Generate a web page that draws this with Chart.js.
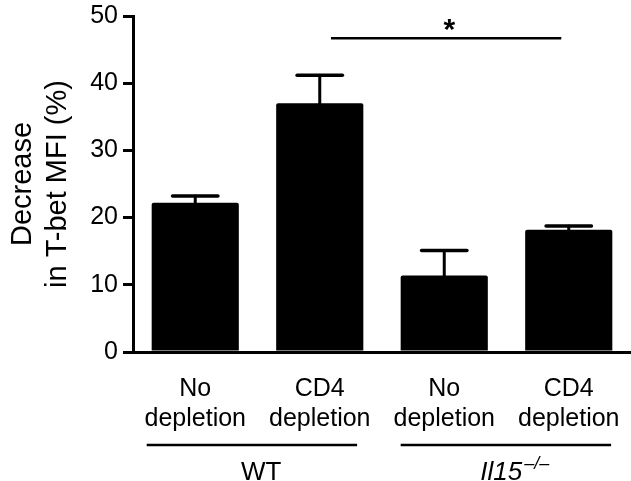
<!DOCTYPE html>
<html>
<head>
<meta charset="utf-8">
<script src="https://cdn.jsdelivr.net/npm/chart.js@4/dist/chart.umd.min.js"></script>
<style>
  html, body { margin: 0; padding: 0; background: #fff; }
  #wrap { width: 631px; height: 481px; }
</style>
</head>
<body>
<div id="wrap"><canvas id="c" width="631" height="481"></canvas></div>
<script>
// ---- data ----
const categories = [["No", "depletion"], ["CD4", "depletion"], ["No", "depletion"], ["CD4", "depletion"]];
const values = [22.2, 37.0, 11.4, 18.2];
const errorsUp = [1.0, 4.2, 3.7, 0.55];
const yTicks = [0, 10, 20, 30, 40, 50];
const yTitle = ["Decrease", "in T-bet MFI (%)"];
const groupNames = ["WT", "Il15"];
const groupSup = ["", "\u2013/\u2013"];
const groupStart = [-0.39, 1.65];   // in category units
const groupEnd = [1.30, 3.34];
const groupLabelAt = [0.53, 2.29];
const sigFrom = [1.09];
const sigTo = [2.94];
const sigAt = [2.04];
const sigValue = [46.7];
const sigText = ["*"];

const FONT = "'Liberation Sans', Arial, sans-serif";

const extras = {
  id: 'extras',
  afterDatasetsDraw(chart) {
    const ctx = chart.ctx;
    const y = chart.scales.y;
    const meta = chart.getDatasetMeta(0);
    ctx.save();
    ctx.strokeStyle = '#000';
    ctx.lineCap = 'round';
    meta.data.forEach((bar, i) => {
      const cx = bar.x;
      const top = y.getPixelForValue(values[i]);
      const errY = y.getPixelForValue(values[i] + errorsUp[i]);
      const capHalf = bar.width * 0.26;
      ctx.lineWidth = 3;
      ctx.beginPath();
      ctx.moveTo(cx, top);
      ctx.lineTo(cx, errY);
      ctx.stroke();
      ctx.lineWidth = 3.5;
      ctx.beginPath();
      ctx.moveTo(cx - capHalf, errY);
      ctx.lineTo(cx + capHalf, errY);
      ctx.stroke();
    });
    ctx.restore();
  },
  afterDraw(chart) {
    const ctx = chart.ctx;
    const x = chart.scales.x, y = chart.scales.y;
    ctx.save();
    ctx.strokeStyle = '#000';
    ctx.fillStyle = '#000';
    // significance
    sigFrom.forEach((f, i) => {
      const yy = y.getPixelForValue(sigValue[i]);
      ctx.lineWidth = 2.5;
      ctx.beginPath();
      ctx.moveTo(x.getPixelForValue(f), yy);
      ctx.lineTo(x.getPixelForValue(sigTo[i]), yy);
      ctx.stroke();
      ctx.font = 'bold 30px ' + FONT;
      ctx.textAlign = 'center';
      ctx.textBaseline = 'alphabetic';
      ctx.fillText(sigText[i], x.getPixelForValue(sigAt[i]), yy + 1);
    });
    // groups
    const lineY = chart.chartArea.bottom + 93;
    const textY = chart.chartArea.bottom + 128;
    groupNames.forEach((g, i) => {
      ctx.lineWidth = 2.5;
      ctx.beginPath();
      ctx.moveTo(x.getPixelForValue(groupStart[i]), lineY);
      ctx.lineTo(x.getPixelForValue(groupEnd[i]), lineY);
      ctx.stroke();
      ctx.textBaseline = 'alphabetic';
      if (!groupSup[i]) {
        ctx.font = '26px ' + FONT;
        ctx.textAlign = 'center';
        ctx.fillText(g, x.getPixelForValue(groupLabelAt[i]), textY);
      } else {
        ctx.font = 'italic 26px ' + FONT;
        ctx.textAlign = 'left';
        const sx = x.getPixelForValue(groupLabelAt[i]);
        ctx.fillText(g, sx, textY);
        const w = ctx.measureText(g).width;
        ctx.font = 'italic 18px ' + FONT;
        ctx.fillText(groupSup[i], sx + w + 2, textY - 11);
      }
    });
    ctx.restore();
  }
};

new Chart(document.getElementById('c'), {
  type: 'bar',
  data: {
    labels: categories,
    datasets: [{
      data: values,
      backgroundColor: '#000',
      borderColor: '#000',
      borderWidth: 0,
      borderRadius: 2,
      borderSkipped: 'bottom',
      barPercentage: 0.7,
      categoryPercentage: 1.0
    }]
  },
  options: {
    responsive: false,
    animation: false,
    devicePixelRatio: 1,
    layout: { padding: { top: 16, right: 0, bottom: 0, left: 0 } },
    plugins: { legend: { display: false }, tooltip: { enabled: false } },
    scales: {
      x: {
        grid: { display: false, drawTicks: true, tickLength: 22 },
        border: { display: true, color: '#000', width: 3 },
        ticks: {
          color: '#000',
          font: { family: FONT, size: 25, lineHeight: 1.2 },
          padding: 0,
          maxRotation: 0,
          autoSkip: false
        },
        afterFit(scale) { scale.height = 129; }
      },
      y: {
        min: 0,
        max: 50,
        afterBuildTicks(scale) { scale.ticks = yTicks.map(v => ({ value: v })); },
        grid: { drawOnChartArea: false, drawTicks: true, tickLength: 10, color: '#000', lineWidth: 3 },
        border: { display: true, color: '#000', width: 3 },
        ticks: {
          color: '#000',
          font: { family: FONT, size: 25, lineHeight: 0.8 },
          padding: 5
        },
        title: {
          display: true,
          text: yTitle,
          color: '#000',
          font: { family: FONT, size: 29, lineHeight: 1.2 },
          padding: { top: 6, bottom: 0 }
        },
        afterFit(scale) { scale.width = 133; }
      }
    }
  },
  plugins: [extras]
});
</script>
</body>
</html>
